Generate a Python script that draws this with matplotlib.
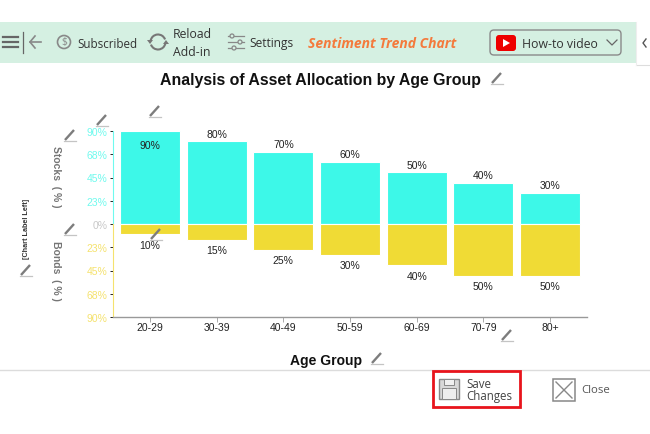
#!/usr/bin/env python3

import matplotlib.pyplot as plt
from matplotlib.patches import Arc, Circle, FancyBboxPatch, Polygon, Rectangle

plt.rcParams['font.family'] = ['Liberation Sans', 'DejaVu Sans']

W, H = 650, 435

# Chart data
age_groups = ['20-29', '30-39', '40-49', '50-59', '60-69', '70-79', '80+']
stocks = [90, 80, 70, 60, 50, 40, 30]
bonds = [10, 15, 25, 30, 40, 50, 50]
tick_values = [90, 67.5, 45, 22.5, 0, -22.5, -45, -67.5, -90]
tick_labels = ['90%', '68%', '45%', '23%', '0%', '23%', '45%', '68%', '90%']

CYAN = '#3df8e8'
YELLOW = '#f0db35'
CYAN_TEXT = '#6ffaee'
YELLOW_TEXT = '#f5e26e'
GREY = '#757575'
BAND = '#d5f0e2'
UI_FONT = ['Open Sans', 'DejaVu Sans']

fig = plt.figure(figsize=(W / 100, H / 100), dpi=100)

# Full-figure axes in pixel coordinates for the add-in toolbar and footer
ui = fig.add_axes([0, 0, 1, 1], zorder=0)
ui.set_xlim(0, W)
ui.set_ylim(H, 0)
ui.axis('off')

# Plot area
ax = fig.add_axes([113 / W, 1 - 318 / H, 474 / W, 186 / H], zorder=1)
ax.patch.set_alpha(0)
ax.set_xlim(-0.555, 6.555)
ax.set_ylim(-90, 90)

# White bar edges leave the thin gap along the zero line
x = range(len(age_groups))
ax.bar(x, stocks, width=0.9, color=CYAN, edgecolor='white', linewidth=0.8)
ax.bar(x, [-b for b in bonds], width=0.9, color=YELLOW, edgecolor='white', linewidth=0.8)

# Value labels; the tallest stock bar has its label inside
for i, value in enumerate(stocks):
    offset = -10 if value >= 90 else 5.5
    ax.annotate(f'{value}%', (i, value), xytext=(0, offset), textcoords='offset points',
                ha='center', va='center', fontsize=7.5, color='#222222')
for i, value in enumerate(bonds):
    ax.annotate(f'{value}%', (i, -value), xytext=(0, -7.5), textcoords='offset points',
                ha='center', va='center', fontsize=7.5, color='#222222')

ax.set_xticks(list(x))
ax.set_xticklabels(age_groups, fontsize=7.5, color='#222222')
ax.tick_params(axis='x', length=3.5, width=0.7, color='#aaaaaa', pad=0)

ax.set_yticks(tick_values)
ax.set_yticklabels(tick_labels, fontsize=7.5)
ax.tick_params(axis='y', length=2, width=0.6, pad=2)
for tick, label, value in zip(ax.yaxis.get_major_ticks(), ax.get_yticklabels(), tick_values):
    color = CYAN_TEXT if value > 0 else YELLOW_TEXT if value < 0 else '#c8c8c8'
    label.set_color(color)
    tick.tick1line.set_color(color)

for side in ['top', 'right', 'left']:
    ax.spines[side].set_visible(False)
ax.spines['bottom'].set_color('#999999')
ax.spines['bottom'].set_linewidth(1.0)
ax.plot([-0.555, -0.555], [0, 90], color=CYAN_TEXT, lw=0.8, clip_on=False)
ax.plot([-0.555, -0.555], [-90, 0], color=YELLOW_TEXT, lw=0.8, clip_on=False)

# Pixel axes above the plot for titles and edit pencils
top = fig.add_axes([0, 0, 1, 1], zorder=2)
top.set_xlim(0, W)
top.set_ylim(H, 0)
top.axis('off')


def pencil(px, py, size=12):
    top.plot([px - size / 2, px + size / 2], [py + size / 2, py + size / 2], color='#c4c4c4', lw=0.9)
    top.plot([px - size / 2 + 1, px + size / 2 - 2], [py + size / 2 - 1, py - size / 2 + 1],
             color='#7d7d7d', lw=1.7, solid_capstyle='butt')


for px, py in [(155, 112), (102, 121), (70, 136), (70, 230), (26, 271), (156, 235),
               (507, 336), (497, 79), (377, 359)]:
    pencil(px, py)

# Titles and axis names
top.text(320.5, 80, 'Analysis of Asset Allocation by Age Group', fontsize=11.45, fontweight='bold',
         ha='center', va='center', color='#111111')
top.text(326, 361, 'Age Group', fontsize=10, fontweight='bold', ha='center', va='center', color='#111111')
top.text(56, 177, 'Stocks  ( % )', fontsize=7.5, fontweight='bold', rotation=-90,
         ha='center', va='center', color=GREY)
top.text(56, 271, 'Bonds  ( % )', fontsize=7.5, fontweight='bold', rotation=-90,
         ha='center', va='center', color=GREY)
top.text(26, 229, '[Chart Label Left]', fontsize=5.2, fontweight='bold', rotation=90,
         ha='center', va='center', color='#333333')

# Toolbar band
ui.add_patch(Rectangle((0, 23), 636, 41, facecolor=BAND, edgecolor='none'))
ui.plot([636, 650], [66, 66], color='#dddddd', lw=0.8)
ui.plot([636, 636], [23, 66], color='#eeeeee', lw=0.8)

# Menu and back icons
for yy in [38, 43, 48]:
    ui.plot([3, 18], [yy, yy], color='#666666', lw=1.6)
ui.plot([23, 23], [33, 54], color='#666666', lw=0.9)
ui.plot([30, 41], [43, 43], color='#888888', lw=1.2)
ui.plot([35, 30, 35], [37, 43, 49], color='#888888', lw=1.2)

# Subscribed
ui.add_patch(Circle((64, 43), 6.5, fill=False, edgecolor='#888888', lw=1.2))
ui.text(64, 43, '$', fontsize=7.5, ha='center', va='center', color='#888888', family=UI_FONT, parse_math=False)
ui.text(77, 44, 'Subscribed', fontsize=8.4, ha='left', va='center', color='#333333', family=UI_FONT)

# Reload arrows
ui.add_patch(Arc((158, 43), 15, 15, theta1=190, theta2=340, color='#777777', lw=1.5))
ui.add_patch(Arc((158, 43), 15, 15, theta1=10, theta2=160, color='#777777', lw=1.5))
ui.add_patch(Polygon([[147, 41], [153, 41], [150, 45]], facecolor='#777777', edgecolor='none'))
ui.add_patch(Polygon([[163, 45], [169, 45], [166, 41]], facecolor='#777777', edgecolor='none'))
ui.text(173, 35, 'Reload', fontsize=8.8, ha='left', va='center', color='#333333', family=UI_FONT)
ui.text(173, 52, 'Add-in', fontsize=8.8, ha='left', va='center', color='#333333', family=UI_FONT)

# Settings sliders
for yy, knob in [(37, 232), (43, 240), (49, 234)]:
    ui.plot([228, 244], [yy, yy], color='#888888', lw=0.9)
    ui.add_patch(Circle((knob, yy), 2, facecolor=BAND, edgecolor='#888888', lw=0.9, zorder=3))
ui.text(249, 44, 'Settings', fontsize=8.6, ha='left', va='center', color='#333333', family=UI_FONT)

ui.text(308, 44, 'Sentiment Trend Chart', fontsize=10, fontweight='bold', style='italic',
        ha='left', va='center', color='#f47a3c', family=UI_FONT)

# How-to video button
ui.add_patch(FancyBboxPatch((490, 31), 131, 25, boxstyle='round,pad=0,rounding_size=4',
                            facecolor=BAND, edgecolor='#8a8a8a', lw=1.0))
ui.add_patch(FancyBboxPatch((496, 36), 20, 16, boxstyle='round,pad=0,rounding_size=3',
                            facecolor='#ee0000', edgecolor='none'))
ui.add_patch(Polygon([[503, 40], [503, 48], [510, 44]], facecolor='white', edgecolor='none', zorder=3))
ui.text(522, 44, 'How-to video', fontsize=8.8, ha='left', va='center', color='#333333', family=UI_FONT)
ui.plot([607, 612, 617], [41, 46, 41], color='#666666', lw=0.9)
ui.plot([646, 643, 646], [40, 44, 48], color='#555555', lw=1.0)

# Footer
ui.plot([0, W], [371, 371], color='#dcdcdc', lw=1.0)
ui.add_patch(Rectangle((433, 372), 87, 36, fill=False, edgecolor='#e8141c', lw=2.0, zorder=4))
ui.add_patch(Rectangle((439, 380), 20, 20, facecolor='#d8d8d8', edgecolor='#888888', lw=1.0))
ui.add_patch(Rectangle((444, 380), 10, 6, facecolor='#f0f0f0', edgecolor='#888888', lw=0.7, zorder=3))
ui.add_patch(Rectangle((442, 389), 14, 11, facecolor='#eeeeee', edgecolor='#888888', lw=0.7, zorder=3))
ui.text(466, 385, 'Save', fontsize=8.3, ha='left', va='center', color='#444444', family=UI_FONT)
ui.text(466, 397, 'Changes', fontsize=8.3, ha='left', va='center', color='#444444', family=UI_FONT)
ui.add_patch(Rectangle((553, 380), 22, 22, fill=False, edgecolor='#888888', lw=1.1))
ui.plot([556, 572], [383, 399], color='#888888', lw=1.0)
ui.plot([556, 572], [399, 383], color='#888888', lw=1.0)
ui.text(581, 391, 'Close', fontsize=8.2, ha='left', va='center', color='#555555', family=UI_FONT)

fig.savefig('out.png', dpi=100)
